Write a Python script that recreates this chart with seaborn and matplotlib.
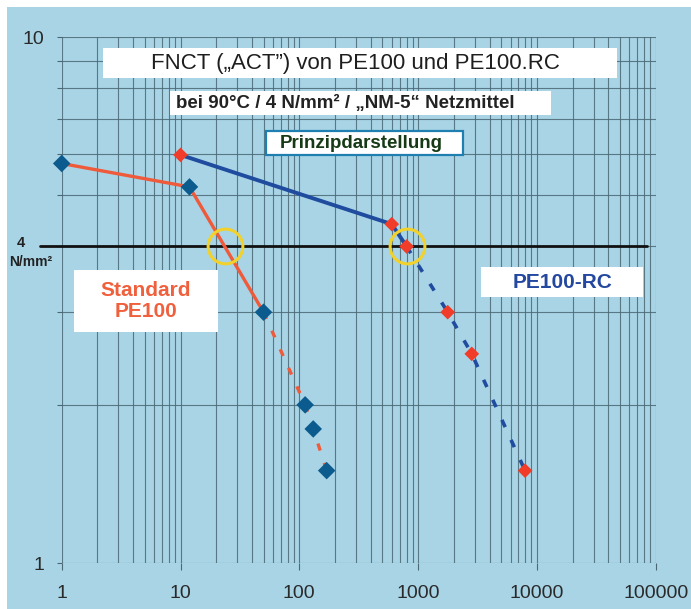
import numpy as np
import pandas as pd
import matplotlib
matplotlib.use("Agg")
import matplotlib.pyplot as plt
import seaborn as sns
from matplotlib.patches import Rectangle
from matplotlib.ticker import FixedLocator, NullFormatter, FixedFormatter

# ---------------- data ----------------
std_time = [1, 11.9, 50, 112, 131, 170]
std_stress = [5.75, 5.19, 3.0, 2.0, 1.8, 1.5]
rc_time = [10, 600, 800, 1775, 2830, 7950]
rc_stress = [5.97, 4.41, 4.0, 3.0, 2.5, 1.5]
std_solid_n = 3   # first points joined by a solid line
rc_solid_n = 3
circle_time = [23.5, 802]
circle_stress = [4, 4]
ref_stress = 4
x_ticks = [1, 10, 100, 1000, 10000, 100000]
x_tick_labels = ["1", "10", "100", "1000", "10000", "100000"]
y_ticks = [1, 10]
y_tick_labels = ["1", "10"]

# ---------------- style ----------------
W, H = 691, 609
BG = "#a8d4e6"
GRID = "#4a6874"
RED_LINE = "#ef5a3a"
RED_MARK = "#f03c28"
BLUE_LINE = "#1f4c9e"
BLUE_MARK = "#0b5b8e"
YELLOW = "#f2d12a"

sns.set_theme(style="white")
plt.rcParams['font.family'] = ['Liberation Sans', 'DejaVu Sans']

fig = plt.figure(figsize=(W / 100, H / 100), dpi=100, facecolor="white")


def fx(x):
    return x / W


def fy(y):
    return 1 - y / H


fig.patches.append(Rectangle((fx(7), 0), 1 - fx(7), fy(7), transform=fig.transFigure,
                             facecolor=BG, edgecolor="none", zorder=-10))

L, R, T, B = 61.7, 655.7, 37.0, 563.3
ax = fig.add_axes([fx(L), fy(B), fx(R) - fx(L), fy(T) - fy(B)])
ax.set_facecolor("none")
ax.set_xscale("log")
ax.set_yscale("log")
ax.set_xlim(1, 1e5)
ax.set_ylim(1, 10)
for s in ax.spines.values():
    s.set_visible(False)

# grid
ax.xaxis.set_major_locator(FixedLocator(x_ticks))
ax.xaxis.set_major_formatter(FixedFormatter(x_tick_labels))
ax.xaxis.set_minor_locator(FixedLocator([m * 10 ** d for d in range(5) for m in range(2, 10)]))
ax.xaxis.set_minor_formatter(NullFormatter())
ax.yaxis.set_major_locator(FixedLocator(y_ticks))
ax.yaxis.set_major_formatter(FixedFormatter(y_tick_labels))
ax.yaxis.set_minor_locator(FixedLocator(list(range(2, 10))))
ax.yaxis.set_minor_formatter(NullFormatter())
ax.grid(True, which="both", color=GRID, lw=0.8, alpha=0.85)
ax.tick_params(axis="x", which="major", length=5, width=0.8, color=GRID, pad=10.5,
               labelsize=14, labelcolor="#2a2a2a", bottom=True)
ax.tick_params(axis="x", which="minor", length=0, bottom=False)
ax.tick_params(axis="y", which="both", length=3.6, width=0.8, color=GRID, pad=9,
               labelsize=14, labelcolor="#2a2a2a", left=True)

# reference line at 4 N/mm²
ax.axhline(ref_stress, xmin=(40 - L) / (R - L), xmax=(646.7 - L) / (R - L),
           color="#111111", lw=2.0, clip_on=False, zorder=2.5)

std_df = pd.DataFrame({"time": std_time, "stress": std_stress})
rc_df = pd.DataFrame({"time": rc_time, "stress": rc_stress})

dash = (0, (2.2, 3.9))
sns.lineplot(data=std_df.iloc[:std_solid_n], x="time", y="stress", sort=False, estimator=None,
             color=RED_LINE, lw=2.4, ax=ax, zorder=3)
sns.lineplot(data=std_df.iloc[std_solid_n - 1:], x="time", y="stress", sort=False, estimator=None,
             color=RED_LINE, lw=2.4, linestyle=dash, ax=ax, zorder=3)
sns.lineplot(data=rc_df.iloc[:rc_solid_n], x="time", y="stress", sort=False, estimator=None,
             color=BLUE_LINE, lw=2.8, ax=ax, zorder=3)
sns.lineplot(data=rc_df.iloc[rc_solid_n - 1:], x="time", y="stress", sort=False, estimator=None,
             color=BLUE_LINE, lw=2.6, linestyle=dash, ax=ax, zorder=3)

sns.scatterplot(data=std_df, x="time", y="stress", marker="D", s=80, color=BLUE_MARK,
                edgecolor="none", ax=ax, zorder=5, legend=False)
sns.scatterplot(data=rc_df, x="time", y="stress", marker="D", s=56, color=RED_MARK,
                edgecolor="none", ax=ax, zorder=5, legend=False)
for coll in ax.collections:
    coll.set_clip_on(False)

ax.plot(circle_time, circle_stress, linestyle="none", marker="o", ms=25, mfc="none",
        mec=YELLOW, mew=2.2, zorder=6, clip_on=False)

ax.set_xlabel("")
ax.set_ylabel("")

# ---------------- text boxes ----------------
def box(x0, y0, x1, y1, edge="none", lw=0):
    fig.patches.append(Rectangle((fx(x0), fy(y1)), fx(x1) - fx(x0), fy(y0) - fy(y1),
                                 transform=fig.transFigure, facecolor="white",
                                 edgecolor=edge, lw=lw, zorder=1))


box(103.3, 47.7, 617, 78.3)
fig.text(fx(355), fy(63), "FNCT (\u201eACT\u201d) von PE100 und PE100.RC", ha="center", va="center",
         fontsize=16, color="#1e1e1e", zorder=2)
box(170, 90.7, 551, 115)
fig.text(fx(345), fy(103), "bei 90°C / 4 N/mm² / \u201eNM-5\u201c Netzmittel", ha="center", va="center",
         fontsize=13.5, fontweight="bold", color="#222222", zorder=2)
box(266, 131, 463, 155, edge="#1f7fb0", lw=1.6)
fig.text(fx(361), fy(143), "Prinzipdarstellung", ha="center", va="center",
         fontsize=13.5, fontweight="bold", color="#163a16", zorder=2)
box(74, 270, 218, 332)
fig.text(fx(146), fy(301), "Standard\nPE100", ha="center", va="center", linespacing=1.1,
         fontsize=15, fontweight="bold", color="#f0603c", zorder=2)
box(481, 267, 643, 297)
fig.text(fx(563), fy(282), "PE100-RC", ha="center", va="center",
         fontsize=15, fontweight="bold", color="#2448a0", zorder=2)

fig.text(fx(21), fy(243), "4", ha="center", va="center", fontsize=10.5, fontweight="bold",
         color="#222222")
fig.text(fx(31), fy(262), "N/mm²", ha="center", va="center", fontsize=10, fontweight="bold",
         color="#222222")

fig.savefig("out.png", dpi=100, facecolor="white")
